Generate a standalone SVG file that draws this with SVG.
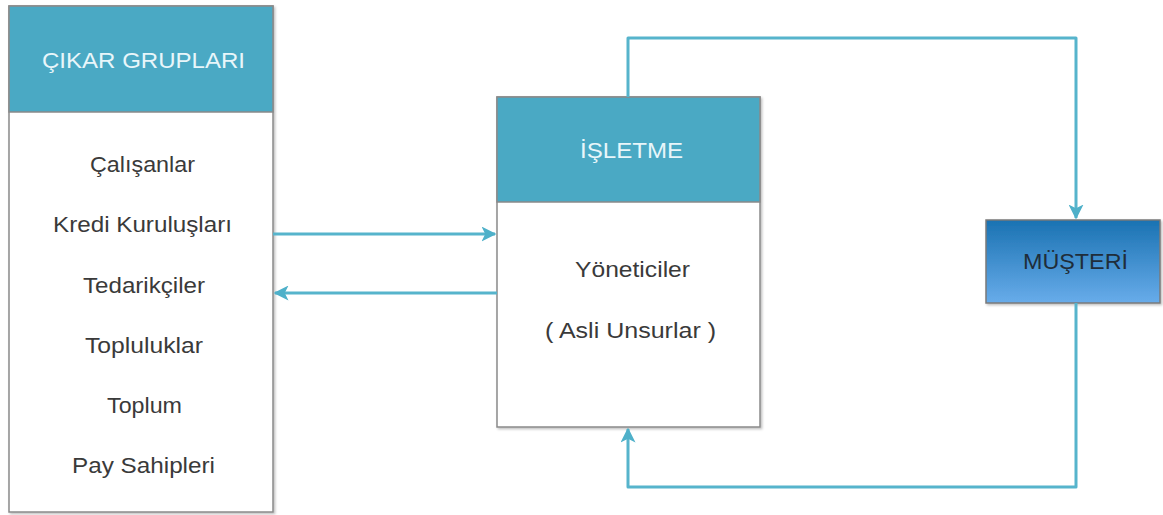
<svg xmlns="http://www.w3.org/2000/svg" width="1163" height="515" viewBox="0 0 1163 515">
  <defs>
    <linearGradient id="custGrad" x1="0" y1="0" x2="0" y2="1">
      <stop offset="0" stop-color="#1a72b2"/>
      <stop offset="1" stop-color="#68acea"/>
    </linearGradient>
    <filter id="shadow" x="-5%" y="-5%" width="110%" height="110%">
      <feDropShadow dx="1.5" dy="1.5" stdDeviation="1" flood-color="#000" flood-opacity="0.25"/>
    </filter>
    <marker id="arrow" viewBox="0 0 10 10" refX="9" refY="5" markerWidth="5" markerHeight="5" orient="auto" markerUnits="strokeWidth">
      <path d="M0,0 L10,5 L0,10 L2.5,5 Z" fill="#4eb0c9"/>
    </marker>
    <style>
      .box { fill: #ffffff; stroke: #8a8a8a; stroke-width: 1.5; }
      .head { fill: #4aa9c4; stroke: #8a8a8a; stroke-width: 1.5; }
      .headText { font-family: "Liberation Sans", Arial, sans-serif; font-size: 22px; fill: #e8f6fa; text-anchor: middle; }
      .item { font-family: "Liberation Sans", Arial, sans-serif; font-size: 22px; fill: #3a3a3a; text-anchor: middle; }
      .cust { font-family: "Liberation Sans", Arial, sans-serif; font-size: 22px; fill: #1f2d3a; text-anchor: middle; }
      .conn { fill: none; stroke: #56b4cc; stroke-width: 3; stroke-linejoin: round; }
    </style>
  </defs>
  <rect width="1163" height="515" fill="#ffffff"/>

  <g id="cikar-gruplari">
    <rect class="box" x="9" y="6" width="264" height="506" filter="url(#shadow)"/>
    <rect class="head" x="9" y="6" width="264" height="106"/>
    <text class="headText" x="143.5" y="68" textLength="203" lengthAdjust="spacingAndGlyphs">ÇIKAR GRUPLARI</text>
    <text class="item" x="142.5" y="172" textLength="105" lengthAdjust="spacingAndGlyphs">Çalışanlar</text>
    <text class="item" x="142.5" y="232" textLength="179" lengthAdjust="spacingAndGlyphs">Kredi Kuruluşları</text>
    <text class="item" x="144" y="293" textLength="122" lengthAdjust="spacingAndGlyphs">Tedarikçiler</text>
    <text class="item" x="144" y="353" textLength="118" lengthAdjust="spacingAndGlyphs">Topluluklar</text>
    <text class="item" x="144.5" y="413" textLength="75" lengthAdjust="spacingAndGlyphs">Toplum</text>
    <text class="item" x="143.5" y="473" textLength="143" lengthAdjust="spacingAndGlyphs">Pay Sahipleri</text>
  </g>

  <g id="isletme">
    <rect class="box" x="497" y="97" width="263" height="330" filter="url(#shadow)"/>
    <rect class="head" x="497" y="97" width="263" height="105"/>
    <text class="headText" x="631.5" y="158" textLength="103" lengthAdjust="spacingAndGlyphs">İŞLETME</text>
    <text class="item" x="632.5" y="277" textLength="115" lengthAdjust="spacingAndGlyphs">Yöneticiler</text>
    <text class="item" x="630.5" y="338" textLength="171" lengthAdjust="spacingAndGlyphs">( Asli Unsurlar )</text>
  </g>

  <g id="musteri">
    <rect x="986" y="220" width="174" height="83" fill="url(#custGrad)" stroke="#7a7a7a" stroke-width="1.5" filter="url(#shadow)"/>
    <text class="cust" x="1075.5" y="269" textLength="105" lengthAdjust="spacingAndGlyphs">MÜŞTERİ</text>
  </g>

  <g id="connectors">
    <line class="conn" x1="273" y1="234" x2="495" y2="234" marker-end="url(#arrow)"/>
    <line class="conn" x1="497" y1="293" x2="275" y2="293" marker-end="url(#arrow)"/>
    <polyline class="conn" points="628,97 628,38 1076,38 1076,218" marker-end="url(#arrow)"/>
    <polyline class="conn" points="1076,303 1076,487 628,487 628,429" marker-end="url(#arrow)"/>
  </g>
</svg>
